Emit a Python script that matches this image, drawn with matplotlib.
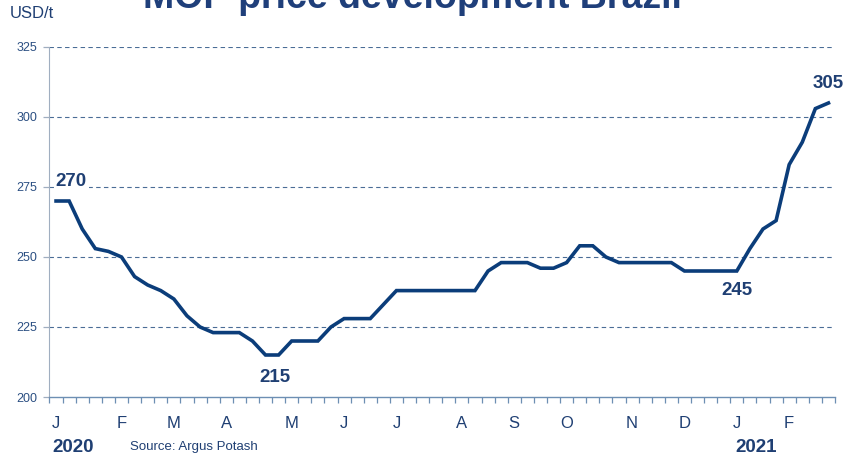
import matplotlib
matplotlib.use("Agg")
import matplotlib.pyplot as plt
import numpy as np

# ---- data (weekly MOP price, USD/t) ----
prices = [270, 270, 260, 253, 252, 250, 243, 240, 238, 235,
          229, 225, 223, 223, 223, 220, 215, 215, 220, 220,
          220, 225, 228, 228, 228, 233, 238, 238, 238, 238,
          238, 238, 238, 245, 248, 248, 248, 246, 246, 248,
          254, 254, 250, 248, 248, 248, 248, 248, 245, 245,
          245, 245, 245, 253, 260, 263, 283, 291, 303, 305]
month_labels = ["J", "F", "M", "A", "M", "J", "J", "A", "S", "O", "N", "D", "J", "F"]
month_week_idx = [0, 5, 9, 13, 18, 22, 26, 31, 35, 39, 44, 48, 52, 56]
y_ticks = [200, 225, 250, 275, 300, 325]
annot_values = ["270", "215", "245", "305"]
annot_idx = [1.15, 16.7, 52.0, 59.0]
annot_y = [277.1, 206.8, 237.9, 312.1]

NAVY = "#0b3d7a"
TXT = "#1f3f73"
GRID = "#4a6d96"

plt.rcParams['font.family'] = ['Liberation Sans', 'DejaVu Sans']

fig = plt.figure(figsize=(8.45, 4.55), dpi=100)
ax = fig.add_axes([49.5/845, 1-397/455, (835-49.5)/845, (397-47)/455])

x = np.arange(len(prices))
ax.plot(x, prices, color=NAVY, lw=2.6, solid_joinstyle='miter', zorder=3)

ax.set_xlim(-0.5, len(prices) - 0.5)
ax.set_ylim(200, 325)
ax.set_yticks(y_ticks)
ax.set_yticklabels([str(v) for v in y_ticks], color="#2b4f82", fontsize=9)
for v in y_ticks[1:]:
    ax.axhline(v, color=GRID, lw=0.8, ls=(0, (4, 3)), zorder=1)

ax.set_xticks(month_week_idx)
ax.set_xticklabels(month_labels, color=TXT, fontsize=12)
ax.tick_params(axis='x', which='major', length=0, pad=14)
ax.set_xticks(np.arange(-0.5, len(prices)), minor=True)
ax.tick_params(axis='x', which='minor', length=4, color="#6d8fb3", width=0.9)
ax.tick_params(axis='y', length=4, color="#a0aec0", width=0.9, pad=5)

for s in ['top', 'right']:
    ax.spines[s].set_visible(False)
ax.spines['left'].set_color("#a0aec0")
ax.spines['bottom'].set_color("#6d8fb3")
ax.spines['bottom'].set_linewidth(1.0)

for t, xi, yi in zip(annot_values, annot_idx, annot_y):
    ax.text(xi, yi, t, ha='center', va='center', fontsize=13.5, fontweight='bold',
            color=TXT, zorder=4,
            bbox=dict(boxstyle='square,pad=0.1', fc='white', ec='none'))

fig.text(412/845, 1-8/455, "MOP price development Brazil", ha='center', va='baseline',
         fontsize=27, fontweight='bold', color="#1f3f7a")
fig.text(10/845, 1-13/455, "USD/t", ha='left', va='center', fontsize=12, color=TXT)
fig.text(52/845, 1-447/455, "2020", ha='left', va='center', fontsize=13.5,
         fontweight='bold', color=TXT)
fig.text(735/845, 1-447/455, "2021", ha='left', va='center', fontsize=13.5,
         fontweight='bold', color=TXT)
fig.text(130/845, 1-447/455, "Source: Argus Potash", ha='left', va='center',
         fontsize=9.5, color=TXT)

fig.savefig("out.png", dpi=100)
